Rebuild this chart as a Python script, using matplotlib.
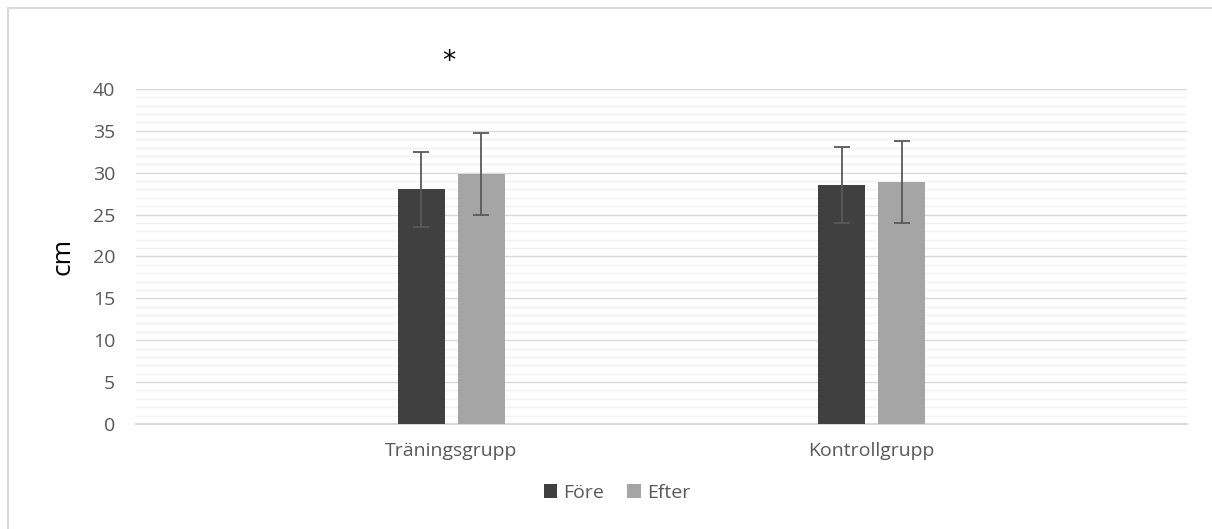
import numpy as np
import matplotlib.pyplot as plt
from matplotlib.patches import Rectangle
from matplotlib.ticker import MultipleLocator

plt.rcParams['font.family'] = ['Open Sans', 'DejaVu Sans']

groups = ["Träningsgrupp", "Kontrollgrupp"]
series = ["Före", "Efter"]
fore = [28.0, 28.5]
efter = [29.8, 28.9]
fore_err = [4.5, 4.55]
efter_err = [4.9, 4.9]
colors = ["#404040", "#a5a5a5"]

fig = plt.figure(figsize=(12.12, 5.29), dpi=100)
ax = fig.add_axes([0.1122, 0.1985, 0.8672, 0.6333])

x = np.arange(len(groups))
w = 0.112
off = 0.0714
ekw = dict(ecolor="#595959", elinewidth=1.3, capsize=6, capthick=1.3)
ax.bar(x - off, fore, w, yerr=fore_err, color=colors[0], label=series[0],
       error_kw=ekw, zorder=3)
ax.bar(x + off, efter, w, yerr=efter_err, color=colors[1], label=series[1],
       error_kw=ekw, zorder=3)

ax.set_xlim(-0.75, 1.75)
ax.set_ylim(0, 40)
ax.yaxis.set_major_locator(MultipleLocator(5))
ax.yaxis.set_minor_locator(MultipleLocator(1))
ax.grid(axis="y", which="major", color="#d9d9d9", lw=1.0, zorder=0)
ax.grid(axis="y", which="minor", color="#f2f2f2", lw=1.0, zorder=0)
ax.set_axisbelow(True)
for s in ["top", "right", "left"]:
    ax.spines[s].set_visible(False)
ax.spines["bottom"].set_color("#d9d9d9")
ax.spines["bottom"].set_linewidth(1.5)
ax.tick_params(axis="both", which="both", length=0, colors="#595959", labelsize=14)
ax.tick_params(axis="y", pad=15)
ax.tick_params(axis="x", pad=13)
ax.set_xticks(x)
ax.set_xticklabels(groups)
ax.set_ylabel("cm", fontsize=19, color="black", labelpad=12)

# significance marker above the training group
ax.text(-0.005, 43.2, "*", ha="center", va="center", fontsize=19,
        family="DejaVu Sans", clip_on=False)

fig.legend(loc="center", bbox_to_anchor=(0.509, 0.068), ncol=2, frameon=False,
           fontsize=14, handlelength=0.7, handleheight=0.7, handletextpad=0.3,
           columnspacing=1.2, labelcolor="#595959")

# chart border
fig.patches.append(Rectangle((8 / 1212, -0.1), 1.2, 1 - 8 / 529 + 0.1,
                             transform=fig.transFigure, fill=False,
                             edgecolor="#d9d9d9", lw=1.5))

fig.savefig("out.png", dpi=100)
